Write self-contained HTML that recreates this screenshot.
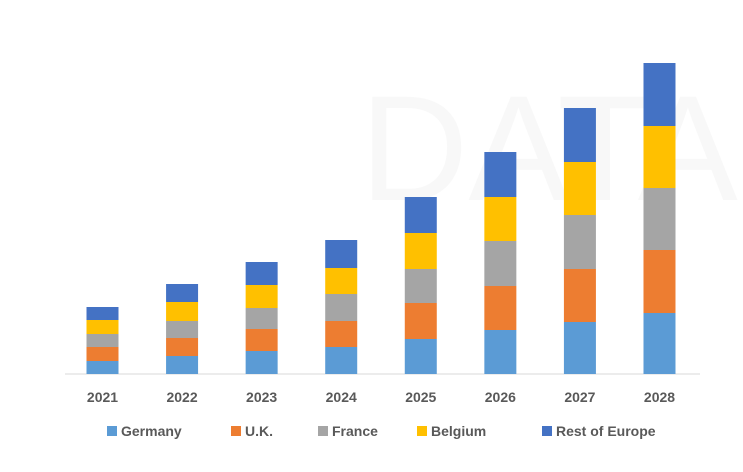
<!DOCTYPE html>
<html><head><meta charset="utf-8"><style>
body{margin:0;background:#fff;}
svg{display:block;font-family:"Liberation Sans",Arial,sans-serif;}
</style></head><body>
<svg id="chart" width="743" height="472" viewBox="0 0 743 472">
<g opacity="0.035">
<text x="360" y="200" font-size="150" fill="#555">DATA</text>
</g>
<line x1="65" y1="374" x2="700" y2="374" stroke="#d9d9d9" stroke-width="1"/>
<g id="bars"></g>
<g id="xlabels"></g>
<g id="legend"></g>
</svg>
<script>
const categories=["2021","2022","2023","2024","2025","2026","2027","2028"];
const germany=[13,18,23,27,35,44,52,61];
const uk=[14,18,22,26,36,44,53,63];
const france=[13,17,21,27,34,45,54,62];
const belgium=[14,19,23,26,36,44,53,62];
const restOfEurope=[13,18,23,28,36,45,54,63];
const seriesNames=["Germany","U.K.","France","Belgium","Rest of Europe"];
const seriesColors=["#5b9bd5","#ed7d31","#a5a5a5","#ffc000","#4472c4"];
const series=[germany,uk,france,belgium,restOfEurope];
const NS="http://www.w3.org/2000/svg";
const baseY=374, x0=102.5, step=79.57, bw=32;
function xScale(i){return x0+i*step;}
function yScale(v){return baseY-v;}
const bars=document.getElementById('bars');
categories.forEach((c,i)=>{
  let cum=0;
  series.forEach((s,k)=>{
    const r=document.createElementNS(NS,'rect');
    r.setAttribute('x',xScale(i)-bw/2);
    r.setAttribute('y',yScale(cum+s[i]));
    r.setAttribute('width',bw);
    r.setAttribute('height',s[i]);
    r.setAttribute('fill',seriesColors[k]);
    
    
    bars.appendChild(r);
    cum+=s[i];
  });
  const t=document.createElementNS(NS,'text');
  t.setAttribute('x',xScale(i));t.setAttribute('y',402);
  t.setAttribute('text-anchor','middle');t.setAttribute('font-size','14');
  t.setAttribute('font-weight','bold');t.setAttribute('fill','#595959');
  t.textContent=c;
  
  
  document.getElementById('xlabels').appendChild(t);
});
const legX=[107,231,318,417,542];
const lg=document.getElementById('legend');
seriesNames.forEach((n,k)=>{
  const g=document.createElementNS(NS,'g');
  
  
  const r=document.createElementNS(NS,'rect');
  r.setAttribute('x',legX[k]);r.setAttribute('y',426);r.setAttribute('width',10);r.setAttribute('height',10);
  r.setAttribute('fill',seriesColors[k]);
  
  
  const t=document.createElementNS(NS,'text');
  t.setAttribute('x',legX[k]+14);t.setAttribute('y',436);t.setAttribute('font-size','14');
  t.setAttribute('font-weight','bold');t.setAttribute('fill','#595959');
  t.textContent=n;
  
  
  g.appendChild(r);g.appendChild(t);lg.appendChild(g);
});
</script>
</body></html>
